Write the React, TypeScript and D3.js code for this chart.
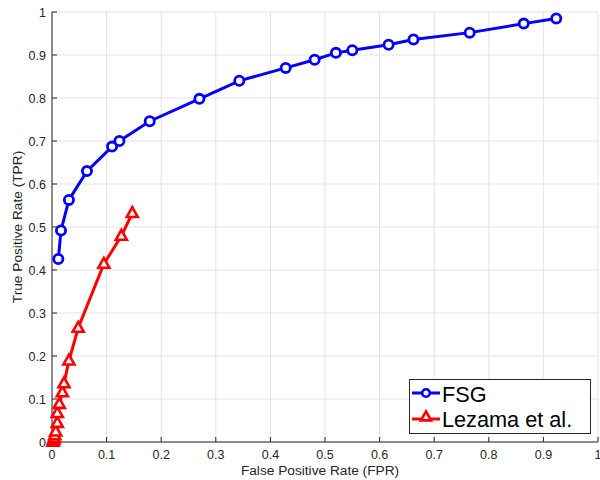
import React from "react";
import * as d3 from "d3";

const fsgFPR = [0.0116, 0.0165, 0.031, 0.064, 0.110, 0.1235, 0.179, 0.270, 0.343, 0.428, 0.481, 0.520, 0.550, 0.6165, 0.662, 0.765, 0.864, 0.9235];
const fsgTPR = [0.4256, 0.492, 0.563, 0.630, 0.687, 0.700, 0.746, 0.798, 0.840, 0.870, 0.889, 0.905, 0.911, 0.924, 0.936, 0.952, 0.973, 0.985];

const lezFPR = [0.002, 0.003, 0.004, 0.005, 0.0068, 0.0097, 0.0097, 0.0134, 0.019, 0.022, 0.031, 0.048, 0.095, 0.127, 0.147];
const lezTPR = [0.0, 0.004, 0.009, 0.015, 0.024, 0.044, 0.067, 0.088, 0.115, 0.136, 0.189, 0.265, 0.414, 0.479, 0.532];

const xTicks = [0, 0.1, 0.2, 0.3, 0.4, 0.5, 0.6, 0.7, 0.8, 0.9, 1];
const yTicks = [0, 0.1, 0.2, 0.3, 0.4, 0.5, 0.6, 0.7, 0.8, 0.9, 1];
const seriesNames = ["FSG", "Lezama et al."];

const W = 600, H = 480;
const L = 52, R = 598, T = 12, B = 442;
const font = "'Liberation Sans', Arial, Helvetica, sans-serif";
const axisColor = "#262626";

function tri(cx: number, cy: number, s: number) {
  const h = s * 0.9;
  return `M${cx},${cy - h * 0.62}L${cx + s / 2},${cy + h * 0.38}L${cx - s / 2},${cy + h * 0.38}Z`;
}

export default function App() {
  const x = d3.scaleLinear().domain([0, 1]).range([L, R]);
  const y = d3.scaleLinear().domain([0, 1]).range([B, T]);
  const fsg = fsgFPR.map((v, i) => [v, fsgTPR[i]] as [number, number]);
  const lez = lezFPR.map((v, i) => [v, lezTPR[i]] as [number, number]);
  const line = d3.line<[number, number]>().x((d) => x(d[0])).y((d) => y(d[1]));
  const fmt = (v: number) => (v === 0 || v === 1 ? String(v) : v.toFixed(1));

  return (
    <svg width={W} height={H} style={{ position: "absolute", left: 0, top: 0, background: "#fff" }} fontFamily={font}>
      <rect x={0} y={0} width={W} height={H} fill="#fff" />
      {/* grid */}
      {xTicks.map((t) => (
        <line key={"gx" + t} x1={x(t)} x2={x(t)} y1={T} y2={B} stroke="#e3e3e3" strokeWidth={1} />
      ))}
      {yTicks.map((t) => (
        <line key={"gy" + t} x1={L} x2={R} y1={y(t)} y2={y(t)} stroke="#e3e3e3" strokeWidth={1} />
      ))}
      {/* axes */}
      <line x1={L} x2={R} y1={B} y2={B} stroke={axisColor} strokeWidth={1} />
      <line x1={L} x2={L} y1={T} y2={B} stroke={axisColor} strokeWidth={1} />
      {xTicks.map((t) => (
        <g key={"xt" + t}>
          <line x1={x(t)} x2={x(t)} y1={B} y2={B - 5} stroke={axisColor} />
          <text x={x(t)} y={B + 17} fontSize={12.5} fill={axisColor} textAnchor="middle">{fmt(t)}</text>
        </g>
      ))}
      {yTicks.map((t) => (
        <g key={"yt" + t}>
          <line x1={L} x2={L + 5} y1={y(t)} y2={y(t)} stroke={axisColor} />
          <text x={L - 6} y={y(t) + 4.5} fontSize={12.5} fill={axisColor} textAnchor="end">{fmt(t)}</text>
        </g>
      ))}
      <text x={320} y={474.5} fontSize={13.7} fill={axisColor} textAnchor="middle">False Positive Rate (FPR)</text>
      <text transform={`translate(21.5,${(T + B) / 2}) rotate(-90)`} fontSize={13.7} fill={axisColor} textAnchor="middle">True Positive Rate (TPR)</text>

      {/* Lezama series */}
      <path d={line(lez) || ""} fill="none" stroke="#ff0000" strokeWidth={3} />
      {lez.map((d, i) => (
        <path key={"lm" + i} d={tri(x(d[0]), y(d[1]), 11)} fill="#fff" stroke="#ff0000" strokeWidth={2.6} strokeLinejoin="miter" />
      ))}
      {/* FSG series */}
      <path d={line(fsg) || ""} fill="none" stroke="#0000ff" strokeWidth={3} />
      {fsg.map((d, i) => (
        <circle key={"fm" + i} cx={x(d[0])} cy={y(d[1])} r={4.6} fill="#fff" stroke="#0000ff" strokeWidth={2.8} />
      ))}

      {/* legend */}
      <rect x={409.5} y={379.5} width={181} height={54} fill="#fff" stroke="#262626" strokeWidth={1} />
      <line x1={412} x2={440} y1={393} y2={393} stroke="#0000ff" strokeWidth={3} />
      <circle cx={426} cy={393} r={3.8} fill="#fff" stroke="#0000ff" strokeWidth={2.6} />
      <text x={442} y={401.5} fontSize={21.7} fill="#000">{seriesNames[0]}</text>
      <line x1={412} x2={440} y1={419} y2={419} stroke="#ff0000" strokeWidth={3} />
      <path d={tri(426, 417, 10)} fill="#fff" stroke="#ff0000" strokeWidth={2.6} />
      <text x={442} y={427} fontSize={21.7} fill="#000">{seriesNames[1]}</text>
    </svg>
  );
}
